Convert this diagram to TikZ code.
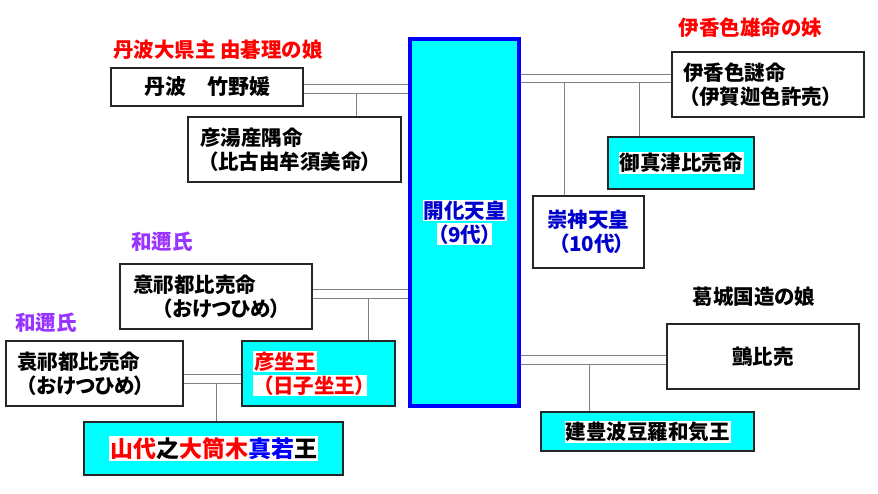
\documentclass[tikz,border=0pt]{standalone}
\usepackage{fontspec}
\setmainfont{Noto Sans CJK JP}[RawFeature=+palt]
\usetikzlibrary{positioning,backgrounds}
\definecolor{kblue}{RGB}{0,0,204}
\definecolor{kpurple}{RGB}{153,51,255}
\definecolor{kcyan}{RGB}{0,255,255}
\newcommand\hlite[1]{{\setlength\fboxsep{1pt}\colorbox{white}{#1}}}

\begin{document}
\begin{tikzpicture}[x=1pt,y=-1pt,
  every node/.style={font=\bfseries\fontsize{20.5}{24}\selectfont,inner sep=0pt},
  sz/.style 2 args={minimum width=#1pt,minimum height=#2pt},
  pbox/.style={draw=black!85,line width=1.2pt,fill=white,align=left},
  cbox/.style={pbox,fill=kcyan},
  lbox/.style 2 args={inner xsep=#1pt,text width=#2pt},
  link/.style={draw=black!50,line width=1pt}]
\useasboundingbox (0,0) rectangle (878,493);
% emperor in the middle
\node(KA)[cbox,draw=blue,line width=4pt,sz={109}{367},align=center,text=kblue] at (464.5,222.5) {\hlite{開化天皇}\\\hlite{（9代）}};
% left side
\node(NT1)[text=red] at (218,50) {丹波大県主 由碁理の娘};
\node(TB)[pbox,sz={192}{38},font=\bfseries\fontsize{21}{24}\selectfont] at (207,87) {丹波　竹野媛};
\node(HY)[pbox,sz={213}{65},lbox={12}{189}] at (294.5,149.5) {彦湯産隅命\\\hspace*{8pt}（比古由牟須美命）};
\node(NW1)[text=kpurple] at (162,242) {和邇氏};
\node(OK)[pbox,sz={192}{65},lbox={13}{166}] at (216,296.5) {意祁都比売命\\\hspace*{29pt}（おけつひめ）};
\node(NW2)[text=kpurple] at (46,323) {和邇氏};
\node(EK)[pbox,sz={177}{65},lbox={11}{155}] at (94.5,373.5) {袁祁都比売命\\\hspace*{9pt}（おけつひめ）};
\node(HI)[cbox,sz={153}{65},lbox={11}{131},text=red] at (318.5,373.5) {\hlite{彦坐王}\\\hlite{\hspace*{9pt}（日子坐王）}};
\node(YS)[cbox,sz={259}{53},font=\bfseries\fontsize{23}{28}\selectfont] at (213.5,448.5)
  {\hlite{\color{red}山代\color{black}之\color{red}大筒木\color{blue}真若\color{black}王}};
% right side
\node(NT2)[text=red] at (750.5,28) {伊香色雄命の妹};
\node(IK)[pbox,sz={192}{65},lbox={11}{170}] at (768,84.5) {伊香色謎命\\\hspace*{6pt}（伊賀迦色許売）};
\node(MT)[cbox,sz={146}{52}] at (681,163) {\hlite{御真津比売命}};
\node(SJ)[pbox,sz={111}{72},lbox={14}{83},text=kblue] at (588.5,232) {崇神天皇\\\hspace*{12pt}（10代）};
\node(NK) at (754,297) {葛城国造の娘};
\node(WA)[pbox,sz={192}{65}] at (763,356.5) {鸇比売};
\node(TY)[cbox,sz={213}{39}] at (647.5,431.5) {\hlite{建豊波豆羅和気王}};
% marriage lines and children
\begin{scope}[on background layer]
\draw[link] ([yshift=3pt]TB.east) -- ([yshift=3pt]TB.east -| KA.west);
\draw[link] ([yshift=-6pt]TB.east) coordinate(L1) -- (L1 -| KA.west);
\draw[link] ([xshift=61.5pt]HY.north) -- ([xshift=61.5pt]HY.north |- L1);
\draw[link] ([yshift=10.5pt]IK.west) -- ([yshift=10.5pt]IK.west -| KA.east);
\draw[link] ([yshift=2.5pt]IK.west) coordinate(L2) -- (L2 -| KA.east);
\draw[link] ([xshift=-24.5pt]SJ.north) -- ([xshift=-24.5pt]SJ.north |- L2);
\draw[link] ([xshift=-42pt]MT.north) -- ([xshift=-42pt]MT.north |- L2);
\draw[link] ([yshift=7.5pt]OK.east) -- ([yshift=7.5pt]OK.east -| KA.west);
\draw[link] ([yshift=-1.5pt]OK.east) coordinate(L3) -- (L3 -| KA.west);
\draw[link] ([xshift=49.5pt]HI.north) -- ([xshift=49.5pt]HI.north |- L3);
\draw[link] ([yshift=-0.5pt]EK.east) -- ([yshift=-0.5pt]EK.east -| HI.west);
\draw[link] ([yshift=-9.5pt]EK.east) coordinate(L4) -- (L4 -| HI.west);
\draw[link] ([xshift=2.5pt]YS.north) -- ([xshift=2.5pt]YS.north |- L4);
\draw[link] ([yshift=1.5pt]WA.west) -- ([yshift=1.5pt]WA.west -| KA.east);
\draw[link] ([yshift=-7.5pt]WA.west) coordinate(L5) -- (L5 -| KA.east);
\draw[link] ([xshift=-58.5pt]TY.north) -- ([xshift=-58.5pt]TY.north |- L5);
\end{scope}
\end{tikzpicture}
\end{document}
